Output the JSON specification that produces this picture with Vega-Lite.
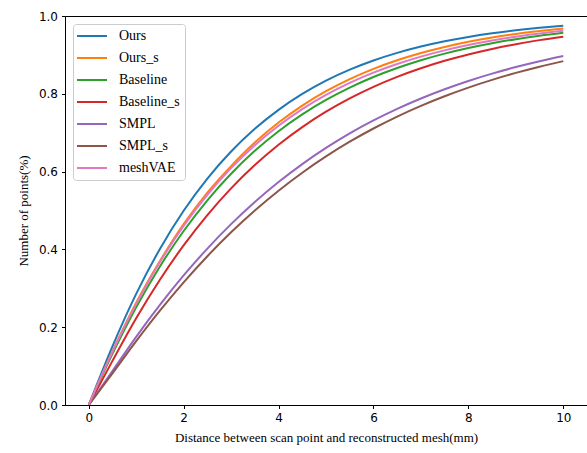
{
  "$schema": "https://vega.github.io/schema/vega-lite/v6.json",
  "width": 522,
  "height": 389,
  "autosize": {"type": "none"},
  "padding": {"left": 65, "top": 16, "right": 0, "bottom": 48},
  "background": "white",
  "config": {
    "view": {"stroke": "black", "strokeWidth": 1},
    "axis": {
      "grid": false,
      "domainColor": "black",
      "tickColor": "black",
      "tickSize": 3.5,
      "labelFont": "DejaVu Sans",
      "labelFontSize": 12,
      "labelColor": "black",
      "labelPadding": 4,
      "titleFont": "Liberation Serif",
      "titleFontSize": 13,
      "titleFontWeight": "normal",
      "titleColor": "black"
    }
  },
  "datasets": {
    "curves": [
      {"s":"Ours","x":0,"y":0},{"s":"Ours","x":0.5,"y":0.1509},{"s":"Ours","x":1,"y":0.2857},{"s":"Ours","x":1.5,"y":0.4012},{"s":"Ours","x":2,"y":0.4993},{"s":"Ours","x":2.5,"y":0.582},{"s":"Ours","x":3,"y":0.6516},{"s":"Ours","x":3.5,"y":0.71},{"s":"Ours","x":4,"y":0.7588},{"s":"Ours","x":4.5,"y":0.7996},{"s":"Ours","x":5,"y":0.8337},{"s":"Ours","x":5.5,"y":0.862},{"s":"Ours","x":6,"y":0.8856},{"s":"Ours","x":6.5,"y":0.9052},{"s":"Ours","x":7,"y":0.9215},{"s":"Ours","x":7.5,"y":0.9351},{"s":"Ours","x":8,"y":0.9463},{"s":"Ours","x":8.5,"y":0.9556},{"s":"Ours","x":9,"y":0.9633},{"s":"Ours","x":9.5,"y":0.9697},{"s":"Ours","x":10,"y":0.975},
      {"s":"Ours_s","x":0,"y":0},{"s":"Ours_s","x":0.5,"y":0.138},{"s":"Ours_s","x":1,"y":0.263},{"s":"Ours_s","x":1.5,"y":0.37},{"s":"Ours_s","x":2,"y":0.465},{"s":"Ours_s","x":2.5,"y":0.546},{"s":"Ours_s","x":3,"y":0.6142},{"s":"Ours_s","x":3.5,"y":0.6746},{"s":"Ours_s","x":4,"y":0.726},{"s":"Ours_s","x":4.5,"y":0.7696},{"s":"Ours_s","x":5,"y":0.8066},{"s":"Ours_s","x":5.5,"y":0.8377},{"s":"Ours_s","x":6,"y":0.8641},{"s":"Ours_s","x":6.5,"y":0.8862},{"s":"Ours_s","x":7,"y":0.9049},{"s":"Ours_s","x":7.5,"y":0.9205},{"s":"Ours_s","x":8,"y":0.9336},{"s":"Ours_s","x":8.5,"y":0.9446},{"s":"Ours_s","x":9,"y":0.9539},{"s":"Ours_s","x":9.5,"y":0.9615},{"s":"Ours_s","x":10,"y":0.968},
      {"s":"Baseline","x":0,"y":0},{"s":"Baseline","x":0.5,"y":0.1313},{"s":"Baseline","x":1,"y":0.251},{"s":"Baseline","x":1.5,"y":0.356},{"s":"Baseline","x":2,"y":0.4473},{"s":"Baseline","x":2.5,"y":0.5263},{"s":"Baseline","x":3,"y":0.5946},{"s":"Baseline","x":3.5,"y":0.6533},{"s":"Baseline","x":4,"y":0.7037},{"s":"Baseline","x":4.5,"y":0.747},{"s":"Baseline","x":5,"y":0.7842},{"s":"Baseline","x":5.5,"y":0.816},{"s":"Baseline","x":6,"y":0.8432},{"s":"Baseline","x":6.5,"y":0.8664},{"s":"Baseline","x":7,"y":0.8862},{"s":"Baseline","x":7.5,"y":0.9032},{"s":"Baseline","x":8,"y":0.9176},{"s":"Baseline","x":8.5,"y":0.9299},{"s":"Baseline","x":9,"y":0.9405},{"s":"Baseline","x":9.5,"y":0.9494},{"s":"Baseline","x":10,"y":0.957},
      {"s":"Baseline_s","x":0,"y":0},{"s":"Baseline_s","x":0.5,"y":0.1135},{"s":"Baseline_s","x":1,"y":0.223},{"s":"Baseline_s","x":1.5,"y":0.3221},{"s":"Baseline_s","x":2,"y":0.4103},{"s":"Baseline_s","x":2.5,"y":0.4883},{"s":"Baseline_s","x":3,"y":0.5568},{"s":"Baseline_s","x":3.5,"y":0.6167},{"s":"Baseline_s","x":4,"y":0.669},{"s":"Baseline_s","x":4.5,"y":0.7145},{"s":"Baseline_s","x":5,"y":0.754},{"s":"Baseline_s","x":5.5,"y":0.7883},{"s":"Baseline_s","x":6,"y":0.818},{"s":"Baseline_s","x":6.5,"y":0.8436},{"s":"Baseline_s","x":7,"y":0.8657},{"s":"Baseline_s","x":7.5,"y":0.8848},{"s":"Baseline_s","x":8,"y":0.9012},{"s":"Baseline_s","x":8.5,"y":0.9154},{"s":"Baseline_s","x":9,"y":0.9276},{"s":"Baseline_s","x":9.5,"y":0.938},{"s":"Baseline_s","x":10,"y":0.947},
      {"s":"SMPL","x":0,"y":0},{"s":"SMPL","x":0.5,"y":0.0875},{"s":"SMPL","x":1,"y":0.1752},{"s":"SMPL","x":1.5,"y":0.2572},{"s":"SMPL","x":2,"y":0.333},{"s":"SMPL","x":2.5,"y":0.4021},{"s":"SMPL","x":3,"y":0.4649},{"s":"SMPL","x":3.5,"y":0.5218},{"s":"SMPL","x":4,"y":0.5731},{"s":"SMPL","x":4.5,"y":0.6193},{"s":"SMPL","x":5,"y":0.6608},{"s":"SMPL","x":5.5,"y":0.6981},{"s":"SMPL","x":6,"y":0.7314},{"s":"SMPL","x":6.5,"y":0.7612},{"s":"SMPL","x":7,"y":0.7879},{"s":"SMPL","x":7.5,"y":0.8117},{"s":"SMPL","x":8,"y":0.8329},{"s":"SMPL","x":8.5,"y":0.8518},{"s":"SMPL","x":9,"y":0.8687},{"s":"SMPL","x":9.5,"y":0.8837},{"s":"SMPL","x":10,"y":0.897},
      {"s":"SMPL_s","x":0,"y":0},{"s":"SMPL_s","x":0.5,"y":0.0813},{"s":"SMPL_s","x":1,"y":0.1641},{"s":"SMPL_s","x":1.5,"y":0.2424},{"s":"SMPL_s","x":2,"y":0.3153},{"s":"SMPL_s","x":2.5,"y":0.3825},{"s":"SMPL_s","x":3,"y":0.4439},{"s":"SMPL_s","x":3.5,"y":0.5},{"s":"SMPL_s","x":4,"y":0.551},{"s":"SMPL_s","x":4.5,"y":0.5972},{"s":"SMPL_s","x":5,"y":0.639},{"s":"SMPL_s","x":5.5,"y":0.6768},{"s":"SMPL_s","x":6,"y":0.7108},{"s":"SMPL_s","x":6.5,"y":0.7415},{"s":"SMPL_s","x":7,"y":0.769},{"s":"SMPL_s","x":7.5,"y":0.7937},{"s":"SMPL_s","x":8,"y":0.816},{"s":"SMPL_s","x":8.5,"y":0.8359},{"s":"SMPL_s","x":9,"y":0.8537},{"s":"SMPL_s","x":9.5,"y":0.8697},{"s":"SMPL_s","x":10,"y":0.884},
      {"s":"meshVAE","x":0,"y":0},{"s":"meshVAE","x":0.5,"y":0.1365},{"s":"meshVAE","x":1,"y":0.2599},{"s":"meshVAE","x":1.5,"y":0.3675},{"s":"meshVAE","x":2,"y":0.4605},{"s":"meshVAE","x":2.5,"y":0.5405},{"s":"meshVAE","x":3,"y":0.609},{"s":"meshVAE","x":3.5,"y":0.6678},{"s":"meshVAE","x":4,"y":0.7179},{"s":"meshVAE","x":4.5,"y":0.7606},{"s":"meshVAE","x":5,"y":0.797},{"s":"meshVAE","x":5.5,"y":0.828},{"s":"meshVAE","x":6,"y":0.8543},{"s":"meshVAE","x":6.5,"y":0.8766},{"s":"meshVAE","x":7,"y":0.8956},{"s":"meshVAE","x":7.5,"y":0.9117},{"s":"meshVAE","x":8,"y":0.9253},{"s":"meshVAE","x":8.5,"y":0.9369},{"s":"meshVAE","x":9,"y":0.9467},{"s":"meshVAE","x":9.5,"y":0.955},{"s":"meshVAE","x":10,"y":0.962}
    ]
  },
  "data": {"name": "curves"},
  "mark": {"type": "line", "strokeWidth": 2, "interpolate": "monotone", "clip": true},
  "encoding": {
    "x": {
      "field": "x", "type": "quantitative",
      "scale": {"domain": [-0.5, 10.5], "nice": false, "zero": false},
      "axis": {"values": [0, 2, 4, 6, 8, 10], "format": "d", "title": "Distance between scan point and reconstructed mesh(mm)", "titlePadding": 8}
    },
    "y": {
      "field": "y", "type": "quantitative",
      "scale": {"domain": [0, 1], "nice": false},
      "axis": {"values": [0, 0.2, 0.4, 0.6, 0.8, 1.0], "format": ".1f", "title": "Number of points(%)", "titlePadding": 8}
    },
    "color": {
      "field": "s", "type": "nominal",
      "scale": {
        "domain": ["Ours", "Ours_s", "Baseline", "Baseline_s", "SMPL", "SMPL_s", "meshVAE"],
        "range": ["#1f77b4", "#ff7f0e", "#2ca02c", "#d62728", "#9467bd", "#8c564b", "#e377c2"]
      },
      "legend": {
        "title": null,
        "orient": "none",
        "legendX": 8,
        "legendY": 8,
        "symbolType": "M-3,0H3",
        "symbolSize": 100,
        "symbolStrokeWidth": 2,
        "symbolOffset": 7,
        "labelOffset": 20,
        "labelFont": "Liberation Serif",
        "labelFontSize": 14,
        "labelColor": "black",
        "rowPadding": 8,
        "padding": 5,
        "fillColor": "white",
        "strokeColor": "#cccccc",
        "cornerRadius": 3
      }
    }
  }
}
